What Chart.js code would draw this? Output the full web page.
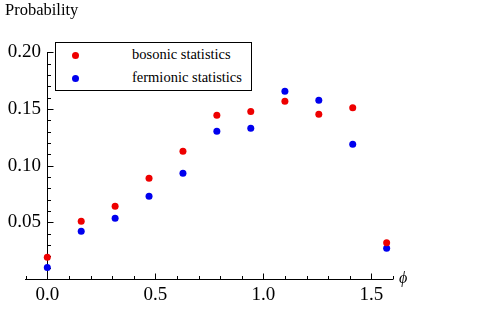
<!DOCTYPE html>
<html>
<head>
<meta charset="utf-8">
<script src="https://cdn.jsdelivr.net/npm/chart.js@4"></script>
<style>
  html, body { margin: 0; padding: 0; background: #fff; }
  #wrap { position: relative; width: 500px; height: 311px;
          font-family: "Liberation Serif", "Times New Roman", serif; color: #000; }
  #plot { position: absolute; left: 0; top: 0; }
  #ylab { position: absolute; left: 5px; top: 2px; font-size: 16.5px; line-height: 1; }
  #xlab { position: absolute; left: 399px; top: 270px; font-size: 16px; font-style: italic; line-height: 1; }
  #legend { position: absolute; left: 55px; top: 42px; width: 195px; height: 47px;
            border: 1px solid #000; background: #fff; }
  .row { position: relative; height: 23px; line-height: 23px; font-size: 14.5px; white-space: nowrap; }
  .dot { position: absolute; left: 16px; top: 9px; width: 7px; height: 7px; border-radius: 50%; }
  .txt { position: absolute; left: 76px; top: 0; }
</style>
</head>
<body>
<div id="wrap">
  <canvas id="plot" width="500" height="311"></canvas>
  <div id="ylab">Probability</div>
  <div id="xlab">&#x3D5;</div>
  <div id="legend"></div>
</div>
<script>
// ---- data -----------------------------------------------------------------
const phi       = [0, 0.157, 0.314, 0.471, 0.628, 0.785, 0.942, 1.100, 1.257, 1.414, 1.571];
const bosonic   = [0.0192, 0.0509, 0.0641, 0.0888, 0.1126, 0.1443, 0.1478, 0.1567, 0.1452, 0.1511, 0.0319];
const fermionic = [0.0102, 0.0421, 0.0535, 0.0729, 0.0932, 0.1302, 0.1329, 0.1655, 0.1576, 0.1188, 0.0271];

const seriesNames  = ["bosonic statistics", "fermionic statistics"];
const seriesColors = ["#ee0000", "#0000ee"];

// ---- axis ticks -------------------------------------------------------------
const xMajorTicks = [0, 0.5, 1.0, 1.5];
const xMinorTicks = [-0.1, 0.1, 0.2, 0.3, 0.4, 0.6, 0.7, 0.8, 0.9, 1.1, 1.2, 1.3, 1.4, 1.6];
const yMajorTicks = [0.05, 0.10, 0.15, 0.20];
const yMinorTicks = [0.01, 0.02, 0.03, 0.04, 0.06, 0.07, 0.08, 0.09, 0.11, 0.12, 0.13, 0.14,
                     0.16, 0.17, 0.18, 0.19];

const FONT = "'Liberation Serif', 'Times New Roman', serif";

const toPoints = (ys) => phi.map((x, i) => ({ x: x, y: ys[i] }));

// Mathematica-style inward tick marks along both axes
const inwardTicks = {
    id: "inwardTicks",
    beforeDatasetsDraw(chart) {
        const { ctx, scales: { x, y } } = chart;
        const xAxisY = Math.round(y.getPixelForValue(0)) + 0.5;
        const yAxisX = Math.round(x.getPixelForValue(0)) + 0.5;
        ctx.save();
        ctx.strokeStyle = "#000";
        ctx.lineWidth = 1;
        ctx.beginPath();
        const xt = (vals, len) => vals.forEach((v) => {
            const p = Math.round(x.getPixelForValue(v)) + 0.5;
            ctx.moveTo(p, xAxisY); ctx.lineTo(p, xAxisY - len);
        });
        const yt = (vals, len) => vals.forEach((v) => {
            const p = Math.round(y.getPixelForValue(v)) + 0.5;
            ctx.moveTo(yAxisX, p); ctx.lineTo(yAxisX + len, p);
        });
        xt(xMajorTicks, 6); xt(xMinorTicks, 3.5);
        yt(yMajorTicks, 6); yt(yMinorTicks, 3.5);
        ctx.stroke();
        ctx.restore();
    },
};

const tickFont = { family: FONT, size: 19 };

const chart = new Chart(document.getElementById("plot"), {
    type: "scatter",
    data: {
        datasets: [
            { label: seriesNames[0], data: toPoints(bosonic),
              backgroundColor: seriesColors[0], pointRadius: 3.5, borderWidth: 0 },
            { label: seriesNames[1], data: toPoints(fermionic),
              backgroundColor: seriesColors[1], pointRadius: 3.5, borderWidth: 0 },
        ],
    },
    options: {
        responsive: false,
        animation: false,
        events: [],
        layout: { padding: { left: 25.7, right: 107.1, top: 52.2, bottom: 0 } },
        plugins: { legend: { display: false }, tooltip: { enabled: false } },
        scales: {
            x: {
                type: "linear", position: "bottom", min: -0.1, max: 1.6,
                afterBuildTicks: (s) => { s.ticks = xMajorTicks.map((v) => ({ value: v })); },
                afterFit: (s) => { s.height = 32; },
                grid: { display: false, drawTicks: false },
                border: { display: true, color: "#000", width: 1 },
                ticks: { padding: 5, color: "#000", font: tickFont, maxRotation: 0, autoSkip: false,
                         callback: (v) => Number(v).toFixed(1) },
            },
            y: {
                // axis crossing at x = 0; labels get no padding there, so a
                // trailing space keeps them off the axis line
                type: "linear", position: { x: 0 }, min: 0, max: 0.2,
                afterBuildTicks: (s) => { s.ticks = yMajorTicks.map((v) => ({ value: v })); },
                grid: { display: false, drawTicks: false },
                border: { display: true, color: "#000", width: 1 },
                ticks: { color: "#000", font: tickFont, autoSkip: false,
                         callback: (v) => Number(v).toFixed(2) + " \u200A" },
            },
        },
    },
    plugins: [inwardTicks],
});

// ---- legend box (HTML, from the datasets) ----------------------------------
const legend = document.getElementById("legend");
chart.data.datasets.forEach((ds) => {
    const row = document.createElement("div");
    row.className = "row";
    const dot = document.createElement("span");
    dot.className = "dot";
    dot.style.background = ds.backgroundColor;
    const txt = document.createElement("span");
    txt.className = "txt";
    txt.textContent = ds.label;
    row.appendChild(dot);
    row.appendChild(txt);
    legend.appendChild(row);
});
</script>
</body>
</html>
